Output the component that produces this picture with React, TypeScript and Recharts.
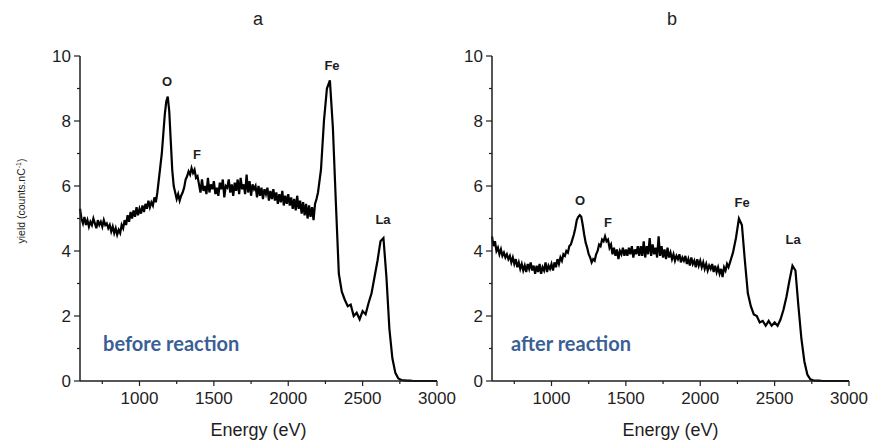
import React from "react";
import { LineChart, Line, XAxis, YAxis, ReferenceDot } from "recharts";

// energy grid (eV): 10 eV steps up to 2200, 20 eV steps after
const ENERGY = [
  600, 610, 620, 630, 640, 650, 660, 670, 680, 690,
  700, 710, 720, 730, 740, 750, 760, 770, 780, 790,
  800, 810, 820, 830, 840, 850, 860, 870, 880, 890,
  900, 910, 920, 930, 940, 950, 960, 970, 980, 990,
  1000, 1010, 1020, 1030, 1040, 1050, 1060, 1070, 1080, 1090,
  1100, 1110, 1120, 1130, 1140, 1150, 1160, 1170, 1180, 1190,
  1200, 1210, 1220, 1230, 1240, 1250, 1260, 1270, 1280, 1290,
  1300, 1310, 1320, 1330, 1340, 1350, 1360, 1370, 1380, 1390,
  1400, 1410, 1420, 1430, 1440, 1450, 1460, 1470, 1480, 1490,
  1500, 1510, 1520, 1530, 1540, 1550, 1560, 1570, 1580, 1590,
  1600, 1610, 1620, 1630, 1640, 1650, 1660, 1670, 1680, 1690,
  1700, 1710, 1720, 1730, 1740, 1750, 1760, 1770, 1780, 1790,
  1800, 1810, 1820, 1830, 1840, 1850, 1860, 1870, 1880, 1890,
  1900, 1910, 1920, 1930, 1940, 1950, 1960, 1970, 1980, 1990,
  2000, 2010, 2020, 2030, 2040, 2050, 2060, 2070, 2080, 2090,
  2100, 2110, 2120, 2130, 2140, 2150, 2160, 2170, 2180, 2190,
  2200,
  2220, 2240, 2260, 2280, 2300, 2320, 2340, 2360, 2380, 2400,
  2420, 2440, 2460, 2480, 2500, 2520, 2540, 2560, 2580, 2600,
  2620, 2640, 2660, 2680, 2700, 2720, 2740, 2760, 2780, 2800,
  2820, 2840, 2860, 2880, 2900, 2920, 2940, 2960, 2980, 3000,
];

// yield before reaction (counts/nC)
const YIELD_BEFORE = [
  5.3, 5.0, 4.85, 5.05, 4.8, 4.95, 4.75, 4.9, 4.8, 5.0,
  4.85, 4.7, 4.95, 4.8, 4.9, 4.75, 4.95, 4.8, 4.85, 4.7,
  4.8, 4.6, 4.75, 4.55, 4.7, 4.5, 4.65, 4.55, 4.8, 4.7,
  4.95, 4.8, 5.1, 4.9, 5.2, 5.0, 5.25, 5.05, 5.35, 5.1,
  5.3, 5.15, 5.4, 5.2, 5.45, 5.3, 5.55, 5.35, 5.5, 5.4,
  5.65, 5.5, 5.8, 6.2, 6.6, 7.0, 7.6, 8.2, 8.6, 8.75,
  8.3, 7.4, 6.5, 6.0, 5.8, 5.6, 5.75, 5.55, 5.7, 5.8,
  5.95, 6.2, 6.3, 6.45, 6.35, 6.55, 6.4, 6.5, 6.25, 6.3,
  6.05, 5.8, 6.2, 5.85, 6.0, 5.75, 6.25, 5.8, 6.05, 5.9,
  6.15, 5.75, 5.95, 5.7, 6.1, 5.9, 6.2, 5.65, 6.0, 5.95,
  6.2, 5.8, 6.05, 5.7, 6.1, 5.85, 6.2, 5.75, 6.25, 5.9,
  6.05, 5.75, 6.35, 5.8, 6.15, 5.7, 6.05, 5.9, 6.0, 5.65,
  6.0, 5.7, 5.95, 5.6, 5.9, 5.75, 5.95, 5.55, 5.85, 5.6,
  5.9, 5.55, 5.8, 5.45, 5.75, 5.5, 5.85, 5.4, 5.7, 5.45,
  5.75, 5.4, 5.65, 5.3, 5.6, 5.25, 5.7, 5.3, 5.55, 5.15,
  5.5, 5.1, 5.45, 5.0, 5.4, 5.05, 5.35, 4.95, 5.45, 5.6,
  5.8,
  6.5, 8.0, 9.0, 9.25, 7.8, 5.5, 3.3, 2.75, 2.5, 2.3,
  2.35, 2.0, 2.1, 1.9, 2.15, 2.05, 2.4, 2.7, 3.2, 3.7,
  4.3, 4.4, 3.2, 1.6, 0.7, 0.25, 0.08, 0.03, 0.02, 0.01,
  0.01, 0, 0, 0, 0, 0, 0, 0, 0, 0,
];

// yield after reaction (counts/nC)
const YIELD_AFTER = [
  4.45, 4.15, 4.3, 4.0, 4.1, 3.9, 4.05, 3.85, 3.95, 3.8,
  3.9, 3.75, 3.85, 3.65, 3.8, 3.6, 3.75, 3.5, 3.65, 3.45,
  3.6, 3.4, 3.55, 3.35, 3.6, 3.45, 3.65, 3.4, 3.55, 3.3,
  3.55, 3.35, 3.6, 3.3, 3.5, 3.4, 3.65, 3.35, 3.55, 3.45,
  3.6, 3.4, 3.65, 3.5, 3.75, 3.6, 3.8, 3.7, 3.9, 3.85,
  4.0, 3.95, 4.15, 4.2, 4.35, 4.5, 4.7, 4.95, 5.05, 5.1,
  5.05, 4.8, 4.5, 4.25, 4.1, 3.9, 3.8, 3.65, 3.75, 3.7,
  3.9, 4.0, 4.2, 4.15, 4.35, 4.3, 4.45, 4.3, 4.35, 4.1,
  4.2, 3.9, 4.1, 3.85, 4.05, 3.75, 4.0, 3.9, 4.1, 3.85,
  4.05, 3.85, 4.1, 3.9, 4.15, 3.8, 4.05, 3.9, 4.15, 3.85,
  4.15, 3.85, 4.3, 3.8, 4.15, 3.9, 4.4, 3.85, 4.2, 3.9,
  4.1, 3.8, 4.45, 3.85, 4.15, 3.8, 4.05, 3.75, 4.1, 3.8,
  3.95, 3.75, 3.9, 3.7, 3.85, 3.75, 3.9, 3.65, 3.8, 3.7,
  3.85, 3.6, 3.75, 3.55, 3.8, 3.6, 3.7, 3.5, 3.75, 3.55,
  3.7, 3.5, 3.65, 3.45, 3.6, 3.4, 3.55, 3.45, 3.6, 3.35,
  3.55, 3.35, 3.5, 3.3, 3.45, 3.2, 3.5, 3.4, 3.6, 3.5,
  3.65,
  3.95, 4.4, 5.0, 4.8, 3.7, 2.7, 2.3, 2.05, 2.0, 1.8,
  1.85, 1.7, 1.85, 1.7, 1.8, 1.7, 1.9, 2.2, 2.6, 3.1,
  3.55, 3.4, 2.3, 1.3, 0.6, 0.2, 0.05, 0.02, 0.01, 0.01,
  0, 0, 0, 0, 0, 0, 0, 0, 0, 0,
];

const X_TICKS = [750, 1000, 1250, 1500, 1750, 2000, 2250, 2500, 2750, 3000];
const Y_TICKS = [0, 1, 2, 3, 4, 5, 6, 7, 8, 9, 10];

const PEAKS_BEFORE = [
  { name: "O", e: 1185, y: 9.08 },
  { name: "F", e: 1387, y: 6.83 },
  { name: "Fe", e: 2294, y: 9.57 },
  { name: "La", e: 2637, y: 4.83 },
];
const PEAKS_AFTER = [
  { name: "O", e: 1192, y: 5.42 },
  { name: "F", e: 1380, y: 4.74 },
  { name: "Fe", e: 2281, y: 5.35 },
  { name: "La", e: 2624, y: 4.22 },
];

const FONT = "'Liberation Sans', Arial, sans-serif";
const INK = "#1e1e1e";

const XTick = (props: any) => {
  const { x, y, payload } = props;
  const major = payload.value % 500 === 0;
  return (
    <g>
      <line x1={x} x2={x} y1={y} y2={y + (major ? 5 : 3)} stroke={INK} strokeWidth={1.2} />
      {major && (
        <text x={x} y={y + 23} textAnchor="middle" fontFamily={FONT} fontSize={17} fill={INK}>
          {payload.value}
        </text>
      )}
    </g>
  );
};

const YTick = (props: any) => {
  const { x, y, payload } = props;
  const major = payload.value % 2 === 0;
  return (
    <g>
      <line x1={x - (major ? 6 : 3)} x2={x} y1={y} y2={y} stroke={INK} strokeWidth={1.2} />
      {major && (
        <text x={x - 9} y={y + 6} textAnchor="end" fontFamily={FONT} fontSize={17} fill={INK}>
          {payload.value}
        </text>
      )}
    </g>
  );
};

const PeakLabel = (name: string) => (p: any) => (
  <text x={p.cx} y={p.cy} textAnchor="middle" fontFamily={FONT} fontWeight="bold" fontSize={13} fill={INK}>
    {name}
  </text>
);

const Note = (label: string) => (p: any) => (
  <text x={p.cx} y={p.cy} fontFamily="Lato, 'Open Sans', sans-serif" fontWeight="bold" fontSize={20} fill="#3a5f95">
    {label}
  </text>
);

const Panel = ({ values, peaks, note, noteAt }: { values: number[]; peaks: typeof PEAKS_BEFORE; note: string; noteAt: number }) => {
  const data = ENERGY.map((e, i) => ({ e, v: values[i] }));
  return (
    <LineChart width={460} height={443} data={data} margin={{ top: 56, right: 23, bottom: 0, left: 0 }}>
      <XAxis
        dataKey="e"
        type="number"
        domain={[600, 3000]}
        ticks={X_TICKS}
        interval={0}
        height={62}
        tickSize={0}
        tickMargin={0}
        tickLine={false}
        tick={<XTick />}
        stroke={INK}
        strokeWidth={1.5}
        label={{ value: "Energy (eV)", position: "insideBottom", offset: 7, fontFamily: FONT, fontSize: 18, fill: INK }}
      />
      <YAxis
        type="number"
        domain={[0, 10]}
        ticks={Y_TICKS}
        interval={0}
        width={80}
        tickSize={0}
        tickMargin={0}
        tickLine={false}
        tick={<YTick />}
        stroke={INK}
        strokeWidth={1.5}
      />
      <Line type="linear" dataKey="v" stroke="#000" strokeWidth={2.2} dot={false} isAnimationActive={false} />
      {peaks.map((p) => (
        <ReferenceDot key={p.name} x={p.e} y={p.y} r={0} shape={PeakLabel(p.name)} />
      ))}
      <ReferenceDot x={noteAt} y={0.93} r={0} shape={Note(note)} />
    </LineChart>
  );
};

export default function App() {
  return (
    <div style={{ position: "absolute", left: 0, top: 0, width: 872, height: 443, background: "#fff", fontFamily: FONT }}>
      <div style={{ position: "absolute", left: 0, top: 0 }}>
        <Panel values={YIELD_BEFORE} peaks={PEAKS_BEFORE} note="before reaction" noteAt={755} />
      </div>
      <div style={{ position: "absolute", left: 412, top: 0 }}>
        <Panel values={YIELD_AFTER} peaks={PEAKS_AFTER} note="after reaction" noteAt={728} />
      </div>
      <div style={{ position: "absolute", left: 253, top: 9, fontSize: 18, color: INK }}>a</div>
      <div style={{ position: "absolute", left: 667, top: 9, fontSize: 18, color: INK }}>b</div>
      <div
        style={{
          position: "absolute",
          left: 21,
          top: 201,
          transform: "translate(-50%, -50%) rotate(-90deg)",
          whiteSpace: "nowrap",
          fontSize: 10.5,
          color: INK,
        }}
      >
        yield (counts.nC<sup style={{ fontSize: 7 }}>-1</sup>)
      </div>
    </div>
  );
}
